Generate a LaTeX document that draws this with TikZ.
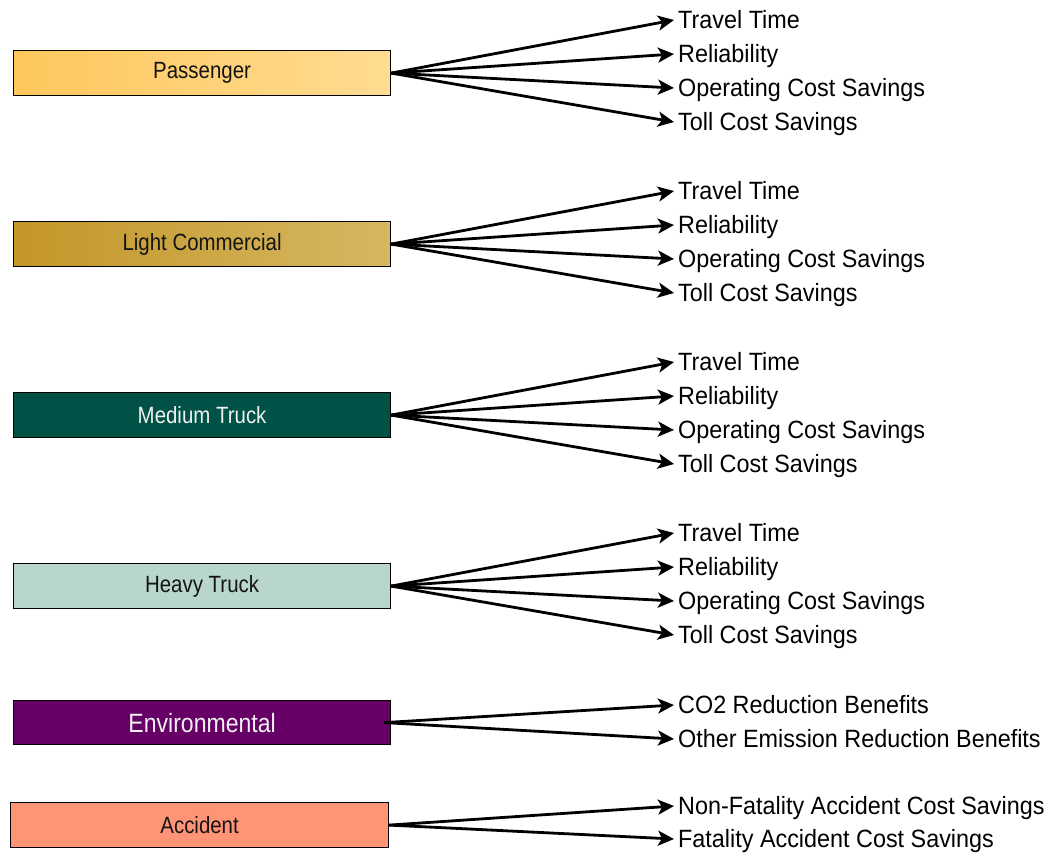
\documentclass[tikz,border=0pt]{standalone}
\usepackage{fontspec}
\setmainfont{Liberation Sans}
\newfontfamily\lblfont[FakeStretch=0.935]{Liberation Sans}
\newfontfamily\boxfont[FakeStretch=0.87]{Liberation Sans}
\usetikzlibrary{arrows.meta}
\definecolor{pasA}{HTML}{FDC75C}
\definecolor{pasB}{HTML}{FFDC92}
\definecolor{lcA}{HTML}{C39628}
\definecolor{lcB}{HTML}{D6B862}
\definecolor{mtC}{HTML}{005146}
\definecolor{htC}{HTML}{B8D6CB}
\definecolor{envC}{HTML}{660066}
\definecolor{accC}{HTML}{FF9477}
\definecolor{darktxt}{HTML}{141414}
\definecolor{lighttxt}{HTML}{F0F0F0}
\begin{document}
\begin{tikzpicture}[x=1pt,y=-1pt,
  catbox/.style={draw=black, line width=1.2pt, minimum width=377pt, minimum height=45pt,
    inner sep=0pt, anchor=north west, text=darktxt, font=\boxfont\fontsize{23.5}{27}\selectfont},
  lbl/.style={anchor=west, inner xsep=4pt, inner ysep=0pt, text height=17.9pt, text depth=0pt,
    text=black, font=\lblfont\fontsize{25}{30}\selectfont},
  arr/.style={-{Stealth[length=16pt,width=15pt,inset=4pt]}, line width=2.8pt, black}]
\useasboundingbox (0,0) rectangle (1052,856);

\node[catbox, left color=pasA, right color=pasB] (pas) at (13,50) {Passenger};
\node[catbox, left color=lcA, right color=lcB] (lc) at (13,221) {Light Commercial};
\node[catbox, fill=mtC, text=lighttxt] (mt) at (13,392) {Medium Truck};
\node[catbox, fill=htC] (ht) at (13,563) {Heavy Truck};
\node[catbox, fill=envC, text=lighttxt, minimum height=44pt, font=\boxfont\fontsize{26.5}{30}\selectfont] (env) at (13,700) {Environmental};
\node[catbox, fill=accC, minimum width=378pt] (acc) at (10,802) {Accident};

\foreach \s/\y in {pas/20, lc/191, mt/362, ht/533} {
  \node[lbl] (\s-1) at (674,\y) {Travel Time};
  \node[lbl] (\s-2) at (674,\y+34) {Reliability};
  \node[lbl] (\s-3) at (674,\y+68) {Operating Cost Savings};
  \node[lbl] (\s-4) at (674,\y+102) {Toll Cost Savings};
  \foreach \i in {1,...,4} \draw[arr] (\s.east) -- (\s-\i.west);
}

\node[lbl] (env-1) at (674,705) {CO2 Reduction Benefits};
\node[lbl] (env-2) at (674,739) {Other Emission Reduction Benefits};
\draw[arr] ([xshift=-7pt]env.east) -- (env-1.west);
\draw[arr] ([xshift=-7pt]env.east) -- (env-2.west);

\node[lbl] (acc-1) at (674,806) {Non-Fatality Accident Cost Savings};
\node[lbl] (acc-2) at (674,839) {Fatality Accident Cost Savings};
\draw[arr] (acc.east) -- (acc-1.west);
\draw[arr] (acc.east) -- (acc-2.west);
\end{tikzpicture}
\end{document}
